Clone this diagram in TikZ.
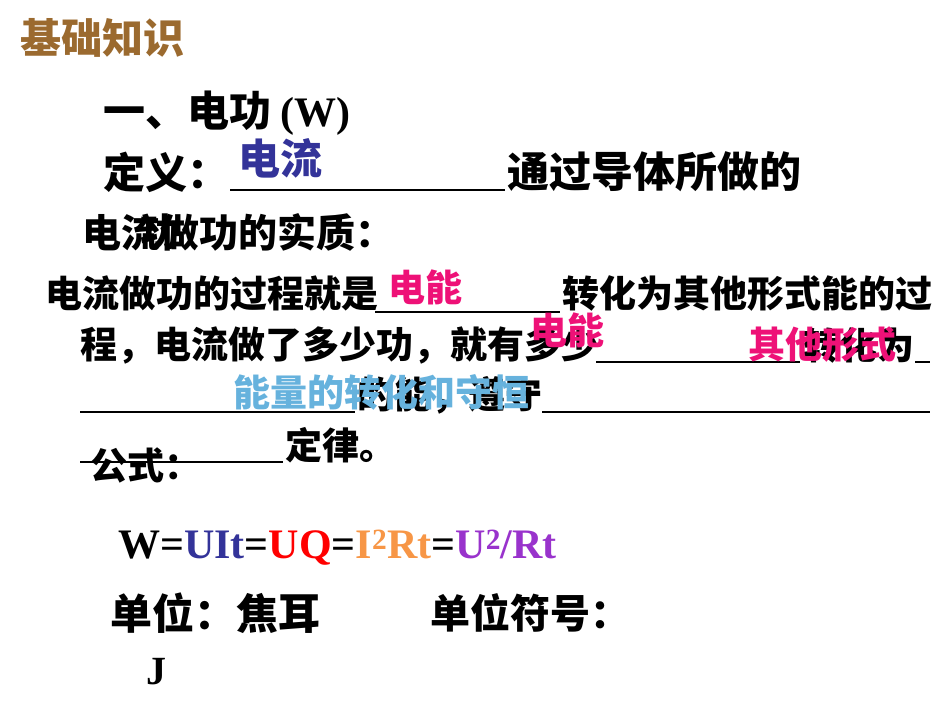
\documentclass[tikz,border=0pt]{standalone}
\usepackage{fontspec}
\setmainfont{Liberation Serif}
\newfontfamily\cjk{Noto Sans CJK SC}
\definecolor{brownh}{HTML}{9B6A2F}
\definecolor{ablue}{HTML}{333399}
\definecolor{apink}{HTML}{EE1177}
\definecolor{lblue}{HTML}{66B2DD}
\definecolor{aorange}{HTML}{F79646}
\definecolor{apurple}{HTML}{9933CC}
\definecolor{ared}{HTML}{FF0000}
\tikzset{
 t/.style={anchor=west,inner sep=0pt,font=\cjk\bfseries\fontsize{#1}{#1}\selectfont},
 blank/.style={line width=1.6pt}
}
\begin{document}
\begin{tikzpicture}[x=1pt,y=-1pt]
\useasboundingbox (0,0) rectangle (950,713);
\node[t=41,text=brownh] (h) at (20,38) {基础知识};
\node[t=42] (l1) at (103,113) {一、电功 {\rmfamily\bfseries(W)}};
\node[t=42] (l2a) at (103,172) {定义：};
\coordinate (u1a) at (230,190); \coordinate (u1b) at (505,190);
\draw[blank] (u1a) -- (u1b);
\node[t=42] (l2b) at (507,172) {通过导体所做的};
\node[t=42,text=ablue] (a1) at (238,158) {电流};
\node[t=39] (l3) at (82,232) {电流做功的实质：};
\node[t=39] (l3x) at (140,232) {功};
\node[t=37] (l4a) at (45,293) {电流做功的过程就是};
\coordinate (u2a) at (375,312); \coordinate (u2b) at (560,312);
\draw[blank] (u2a) -- (u2b);
\node[t=37] (l4b) at (562,293) {转化为其他形式能的过};
\node[t=37,text=apink] (a2) at (388,287) {电能};
\node[t=37] (l5a) at (80,345) {程，电流做了多少功，就有多少};
\coordinate (u3a) at (596,362); \coordinate (u3b) at (800,362);
\draw[blank] (u3a) -- (u3b);
\node[t=37] (l5b) at (803,345) {转化为};
\coordinate (u4a) at (915,362); \coordinate (u4b) at (930,362);
\draw[blank] (u4a) -- (u4b);
\node[t=37,text=apink] (a3) at (530,330) {电能};
\node[t=37,text=apink] (a4) at (748,345) {其他形式};
\coordinate (u5a) at (80,412); \coordinate (u5b) at (355,412);
\draw[blank] (u5a) -- (u5b);
\node[t=37] (l6) at (357,395) {的能，遵守};
\coordinate (u6a) at (542,412); \coordinate (u6b) at (930,412);
\draw[blank] (u6a) -- (u6b);
\node[t=37,text=lblue] (a5) at (233,392) {能量的转化和守恒};
\node[t=37] (l7a) at (90,465) {公式：};
\coordinate (u7a) at (80,462); \coordinate (u7b) at (283,462);
\draw[blank] (u7a) -- (u7b);
\node[t=37] (l7b) at (285,445) {定律。};
\node[anchor=west,inner sep=0pt,font=\rmfamily\bfseries\fontsize{42}{42}\selectfont] (f) at (118,548)
 {W=\textcolor{ablue}{UIt}=\textcolor{ared}{UQ}=\textcolor{aorange}{I\textsuperscript{2}Rt}=\textcolor{apurple}{U\textsuperscript{2}/Rt}};
\node[t=42] (u1) at (110,613) {单位：焦耳};
\node[t=40] (u2) at (430,613) {单位符号：};
\node[anchor=west,inner sep=0pt,font=\rmfamily\bfseries\fontsize{40}{40}\selectfont] (j) at (146,672) {J};
\end{tikzpicture}
\end{document}
